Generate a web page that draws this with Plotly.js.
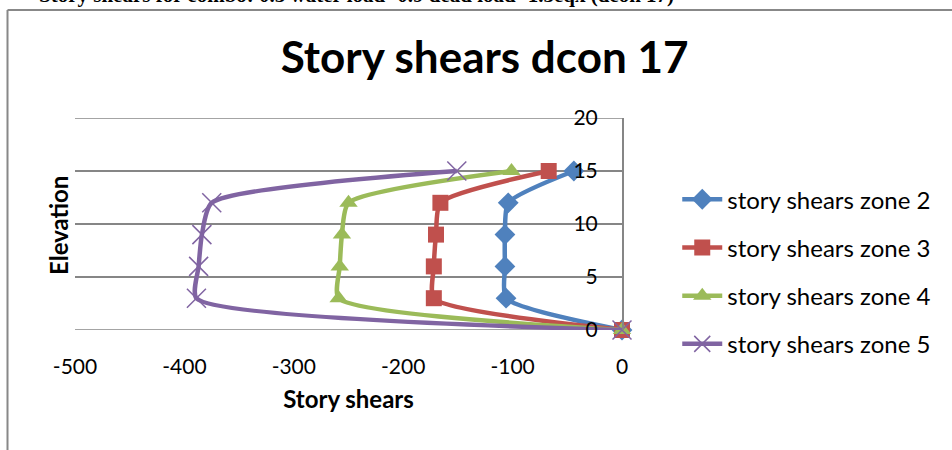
<!DOCTYPE html>
<html>
<head>
<meta charset="utf-8">
<script src="https://cdn.plot.ly/plotly-3.0.1.min.js"></script>
<style>
html,body{margin:0;padding:0;background:#fff;}
#chart{width:952px;height:450px;}
</style>
</head>
<body>
<div id="chart"></div>
<script>
const elevations = [0, 3, 6, 9, 12, 15];
const zone2 = [0, -106, -107, -107, -104, -44];
const zone3 = [0, -172, -172, -170, -166, -67];
const zone4 = [0, -259, -258, -256, -250, -101];
const zone5 = [0, -389, -387, -384, -375, -151];
const seriesNames = ['story shears zone 2','story shears zone 3','story shears zone 4','story shears zone 5'];
const xTicks = [-500, -400, -300, -200, -100, 0];
const yTicks = [0, 5, 10, 15, 20];

const colors = ['#4F81BD','#C0504D','#9BBB59','#8064A2'];
const symbols = ['diamond','square','triangle-up','x-thin'];
const sizes = [16, 16, 16, 19];
const data = [zone2, zone3, zone4, zone5].map((vals, i) => ({
  type: 'scatter',
  mode: 'lines+markers',
  name: seriesNames[i],
  legendgroup: 'g' + i,
  cliponaxis: false,
  x: vals,
  y: elevations,
  line: {color: colors[i], width: 4.5, shape: 'spline', smoothing: 0.6},
  marker: {symbol: symbols[i], size: sizes[i], color: colors[i],
           line: {color: colors[i], width: i === 3 ? 1.5 : 0}}
}));

const F = 'Lato, "Open Sans", sans-serif';
const yMin = yTicks[0], yMax = yTicks[yTicks.length - 1];
const layout = {
  width: 952, height: 450,
  margin: {l: 75, r: 330, t: 118, b: 120},
  paper_bgcolor: '#fff', plot_bgcolor: '#fff',
  showlegend: true,
  title: {text: '<b>Story shears dcon 17</b>', font: {family: F, size: 44, color: '#000'},
          x: 0.509, xref: 'container', y: 1 - 58/450, yref: 'container', yanchor: 'middle'},
  xaxis: {range: [-500, 0], tickvals: xTicks, ticktext: xTicks.map(String),
          showgrid: false, zeroline: false, showline: false, ticks: '',
          ticklabelstandoff: 22,
          tickfont: {family: F, size: 21, color: '#000'},
          title: {text: '<b>Story shears</b>', font: {family: F, size: 24, color: '#000'}, standoff: 14},
          fixedrange: true},
  yaxis: {range: [yMin, yMax], tickvals: yTicks, ticktext: yTicks.map(String),
          side: 'left', anchor: 'free', position: 1,
          ticklabelstandoff: 20,
          showgrid: true, gridcolor: '#868686', gridwidth: 1.5,
          zeroline: false, showline: true, linecolor: '#868686', linewidth: 1.5, mirror: false,
          ticks: '', tickfont: {family: F, size: 21, color: '#000'}, fixedrange: true},
  legend: {x: 1.101, xanchor: 'left', y: 0.721, yanchor: 'top', traceorder: 'grouped',
           tracegroupgap: 14, font: {family: F, size: 24, color: '#000'}, itemwidth: 40,
           bgcolor: 'rgba(0,0,0,0)'},
  annotations: [
    {text: '<b>Elevation</b>', xref: 'paper', yref: 'paper', x: (58-75)/547, y: (330-226)/212,
     xanchor: 'center', yanchor: 'middle', textangle: -90, showarrow: false,
     font: {family: F, size: 24, color: '#000'}},
    {text: '<b>Story shears for combo: 0.5 water load+0.9 dead load+1.3eqx (dcon 17)</b>', xref: 'paper', yref: 'paper',
     x: (676-75)/547, y: (330-(-5))/212, xanchor: 'right', yanchor: 'middle', showarrow: false,
     font: {family: '"Liberation Serif", "Times New Roman", serif', size: 21, color: '#000'}}
  ],
  shapes: [
    {type: 'line', xref: 'paper', yref: 'paper', x0: (7.5-75)/547, x1: (7.5-75)/547,
     y0: (330-10)/212, y1: (330-460)/212, line: {color: '#888', width: 2}},
    {type: 'line', xref: 'paper', yref: 'paper', x0: (7.5-75)/547, x1: (960-75)/547,
     y0: (330-10)/212, y1: (330-10)/212, line: {color: '#888', width: 2}},
    {type: 'line', xref: 'paper', yref: 'y', x0: 0, x1: 1, y0: yMin, y1: yMin, layer: 'below',
     line: {color: '#868686', width: 1.5}},
    {type: 'line', xref: 'paper', yref: 'y', x0: 0, x1: 1, y0: yMax, y1: yMax, layer: 'below',
     line: {color: '#868686', width: 1.5}}
  ]
};

Plotly.newPlot('chart', data, layout, {displayModeBar: false, staticPlot: true});
</script>
</body>
</html>
